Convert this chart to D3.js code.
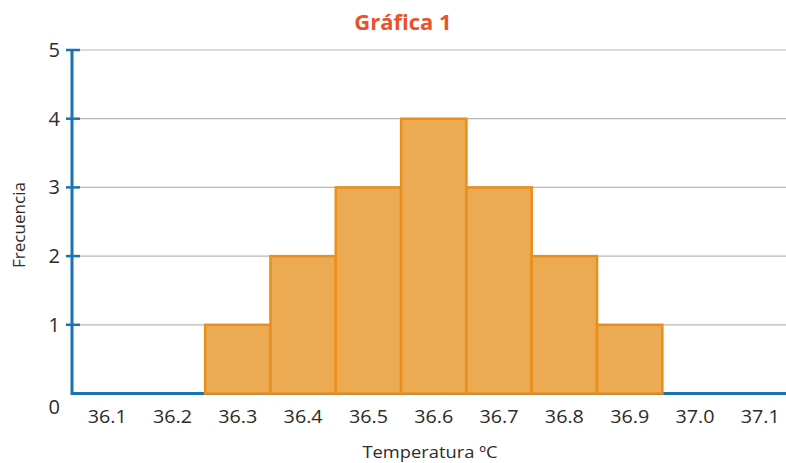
<!DOCTYPE html>
<html><head><meta charset="utf-8">
<script src="https://cdn.jsdelivr.net/npm/d3@7"></script>
<style>body{margin:0;background:#fff}svg{display:block}</style>
</head><body>
<svg id="c" width="786" height="463"></svg>
<script>
const categories = ["36.1","36.2","36.3","36.4","36.5","36.6","36.7","36.8","36.9","37.0","37.1"];
const frequencies = [0,0,1,2,3,4,3,2,1,0,0];
const yTicks = [0,1,2,3,4,5];
const title = "Gráfica 1";
const xTitle = "Temperatura ºC";
const yTitle = "Frecuencia";

const svg = d3.select("#c");
const font = "'Open Sans', 'Noto Sans', sans-serif";
const x = d3.scaleBand().domain(categories).range([74.5, 793]).padding(0);
const y = d3.scaleLinear().domain([0,5]).range([393.5, 50]);
const x0 = 72;

// gridlines
svg.append("g").selectAll("line").data(yTicks.filter(d=>d>0)).join("line")
  .attr("x1", x0).attr("x2", 786).attr("y1", d=>y(d)).attr("y2", d=>y(d))
  .attr("stroke", "#b8b8b8").attr("stroke-width", 1.2);

// x baseline (blue)
svg.append("line").attr("x1", x0).attr("x2", 786).attr("y1", y(0)).attr("y2", y(0))
  .attr("stroke", "#1b72b3").attr("stroke-width", 3);

// bars
svg.append("g").selectAll("rect").data(categories.map((c,i)=>({c, v:frequencies[i]})).filter(d=>d.v>0)).join("rect")
  .attr("x", d=>x(d.c)).attr("width", x.bandwidth())
  .attr("y", d=>y(d.v)).attr("height", d=>y(0)-y(d.v))
  .attr("fill", "#ecaa52").attr("stroke", "#ea8e1c").attr("stroke-width", 2.5);

// y axis
svg.append("line").attr("x1", x0).attr("x2", x0).attr("y1", y(5)).attr("y2", y(0)+1.5)
  .attr("stroke", "#1b72b3").attr("stroke-width", 3);
svg.append("g").selectAll("line").data(yTicks.filter(d=>d>0)).join("line")
  .attr("x1", x0-6).attr("x2", x0+8).attr("y1", d=>y(d)).attr("y2", d=>y(d))
  .attr("stroke", "#1b72b3").attr("stroke-width", 2.5);
svg.append("g").selectAll("text").data(yTicks).join("text")
  .attr("x", 60).attr("y", d=> d===0 ? y(0)+13 : y(d))
  .attr("dy", "0.35em").attr("text-anchor", "end")
  .attr("font-family", font).attr("font-size", 20).attr("fill", "#2b2b2b")
  .text(d=>d);

// x labels
svg.append("g").selectAll("text").data(categories).join("text")
  .attr("x", d=>x(d)+x.bandwidth()/2).attr("y", 417).attr("dy","0.35em")
  .attr("text-anchor", "middle")
  .attr("font-family", font).attr("font-size", 18.5).attr("fill", "#2b2b2b")
  .attr("textLength", 39).attr("lengthAdjust", "spacingAndGlyphs")
  .text(d=>d);

// titles
svg.append("text").attr("x", 403).attr("y", 22).attr("dy","0.35em").attr("text-anchor","middle")
  .attr("font-family", font).attr("font-weight", "bold").attr("font-size", 22).attr("fill", "#e9522b")
  .text(title);
svg.append("text").attr("x", 430).attr("y", 452).attr("dy","0.35em").attr("text-anchor","middle")
  .attr("font-family", font).attr("font-size", 17).attr("fill", "#2b2b2b")
  .attr("textLength", 135).attr("lengthAdjust", "spacingAndGlyphs")
  .text(xTitle);
svg.append("text").attr("transform", "translate(19,225) rotate(-90)").attr("dy","0.35em").attr("text-anchor","middle")
  .attr("font-family", font).attr("font-size", 17).attr("fill", "#2b2b2b")
  .attr("textLength", 86).attr("lengthAdjust", "spacingAndGlyphs")
  .text(yTitle);
</script>
</body></html>
